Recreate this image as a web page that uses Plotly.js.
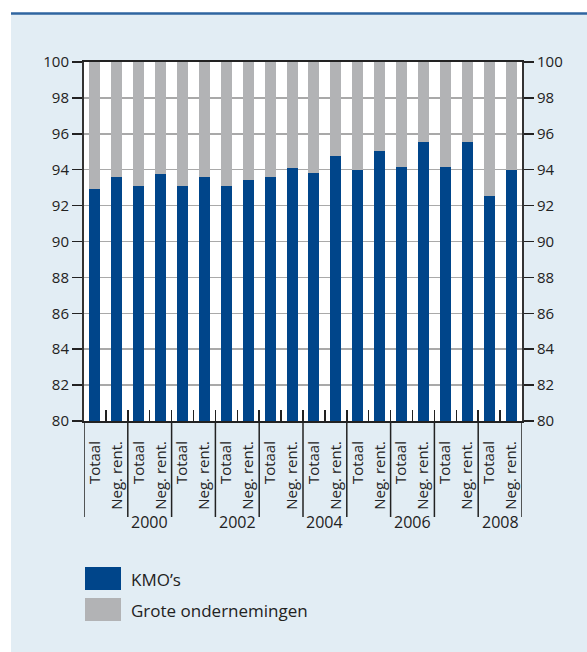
<!DOCTYPE html>
<html>
<head>
<meta charset="utf-8">
<script src="https://cdn.plot.ly/plotly-3.0.1.min.js"></script>
<style>html,body{margin:0;padding:0;background:#fff;}#chart{width:587px;height:652px;}</style>
</head>
<body>
<div id="chart"></div>
<script>
// ---- data ----
const years = [1999, 2000, 2001, 2002, 2003, 2004, 2005, 2006, 2007, 2008];
const yearLabels = ["", "2000", "", "2002", "", "2004", "", "2006", "", "2008"];
const cats = ["Totaal", "Neg. rent."];
const kmo = [92.9, 93.57, 93.07, 93.74, 93.07, 93.57, 93.12, 93.45, 93.57, 94.08,
             93.8, 94.77, 93.97, 95.04, 94.13, 95.52, 94.13, 95.52, 92.56, 93.96];
const grote = [7.1, 6.43, 6.93, 6.26, 6.93, 6.43, 6.88, 6.55, 6.43, 5.92,
               6.2, 5.23, 6.03, 4.96, 5.87, 4.48, 5.87, 4.48, 7.44, 6.04];
const seriesNames = ["KMO\u2019s", "Grote ondernemingen"];
const yTicks = [80, 82, 84, 86, 88, 90, 92, 94, 96, 98, 100];

// ---- styling ----
const BLUE = "#00458a", GREY = "#b2b3b5", BG = "#e2edf4", INK = "#222222";
const FONT = "Open Sans, Noto Sans, sans-serif";
const W = 587, H = 652, L = 84, R = 65, T = 62, B = 231;
const PW = W - L - R, PH = H - T - B;
const px2x = p => (p - L) / PW;
const py2y = p => (H - B - p) / PH;

const xs = [], ticktext = [];
years.forEach((y, i) => cats.forEach((c, j) => { xs.push(i * cats.length + j); ticktext.push(c); }));
const bounds = [];
for (let k = 0; k <= xs.length; k++) bounds.push(k - 0.5);

const traces = [
  {type: "bar", x: xs, y: kmo, name: seriesNames[0], marker: {color: BLUE, line: {width: 0}}, showlegend: false, hoverinfo: "y"},
  {type: "bar", x: xs, y: grote, name: seriesNames[1], marker: {color: GREY, line: {width: 0}}, showlegend: false, hoverinfo: "y"},
  {type: "scatter", x: [bounds[0]], y: [80], xaxis: "x2", yaxis: "y2", mode: "none", showlegend: false, hoverinfo: "skip"}
];

const shapes = [
  // white margins outside the light-blue panel
  {type: "rect", xref: "paper", yref: "paper", x0: px2x(0), x1: px2x(W), y0: py2y(0), y1: py2y(13), fillcolor: "#ffffff", line: {width: 0}, layer: "below"},
  {type: "rect", xref: "paper", yref: "paper", x0: px2x(0), x1: px2x(11), y0: py2y(0), y1: py2y(H), fillcolor: "#ffffff", line: {width: 0}, layer: "below"},
  {type: "line", xref: "paper", yref: "paper", x0: px2x(11), x1: px2x(W), y0: py2y(13.5), y1: py2y(13.5), line: {color: "#2f65a0", width: 2.5}}
];
// year group separators
for (let k = 0; k <= years.length; k++) {
  const xv = k * cats.length - 0.5;
  shapes.push({type: "line", xref: "x", yref: "paper", x0: xv, x1: xv, y0: 0, y1: py2y(517), line: {color: INK, width: 1.5}});
}
const annotations = [];
years.forEach((y, i) => {
  if (yearLabels[i]) annotations.push({xref: "x", yref: "paper", x: i * cats.length + (cats.length - 1) / 2, y: py2y(522),
    text: yearLabels[i], showarrow: false, xanchor: "center", yanchor: "middle", font: {family: FONT, size: 16, color: INK}});
});
// legend
const legColors = [BLUE, GREY];
const legTop = [567, 598];
seriesNames.forEach((n, i) => {
  shapes.push({type: "rect", xref: "paper", yref: "paper", x0: px2x(85), x1: px2x(121), y0: py2y(legTop[i]), y1: py2y(legTop[i] + 23),
    fillcolor: legColors[i], line: {width: 0}});
  annotations.push({xref: "paper", yref: "paper", x: px2x(129), y: py2y(legTop[i] + 12), text: n, showarrow: false,
    xanchor: "left", yanchor: "middle", font: {family: FONT, size: 17, color: INK}});
});

const yCommon = {range: [80, 100], tickvals: yTicks, ticks: "outside", ticklen: 10, tickwidth: 1.5, tickcolor: INK,
  showline: true, linewidth: 2, linecolor: "#333333", zeroline: false, tickfont: {family: FONT, size: 15, color: INK}, fixedrange: true};

const layout = {
  width: W, height: H,
  margin: {l: L, r: R, t: T, b: B, pad: 0},
  paper_bgcolor: BG, plot_bgcolor: "#ffffff",
  font: {family: FONT, color: INK},
  barmode: "stack", bargap: 0.5,
  showlegend: false,
  xaxis: {range: [bounds[0], bounds[bounds.length - 1]], tickvals: xs, ticktext: ticktext, tickangle: -90, ticks: "",
    ticklabelstandoff: 12, showline: true, mirror: true, linewidth: 2, linecolor: INK, showgrid: false, zeroline: false,
    tickfont: {family: FONT, size: 15, color: INK}, fixedrange: true},
  xaxis2: {overlaying: "x", anchor: "y", side: "bottom", range: [bounds[0], bounds[bounds.length - 1]], tickvals: bounds,
    ticks: "inside", ticklen: 11, tickwidth: 1.5, tickcolor: INK, showticklabels: false, showgrid: false, showline: false, zeroline: false, fixedrange: true},
  yaxis: Object.assign({}, yCommon, {showgrid: true, gridcolor: "#a9a9a9", gridwidth: 1.5}),
  yaxis2: Object.assign({}, yCommon, {overlaying: "y", side: "right", anchor: "x", showgrid: false}),
  shapes: shapes,
  annotations: annotations
};

Plotly.newPlot("chart", traces, layout, {displayModeBar: false, staticPlot: true});
</script>
</body>
</html>
